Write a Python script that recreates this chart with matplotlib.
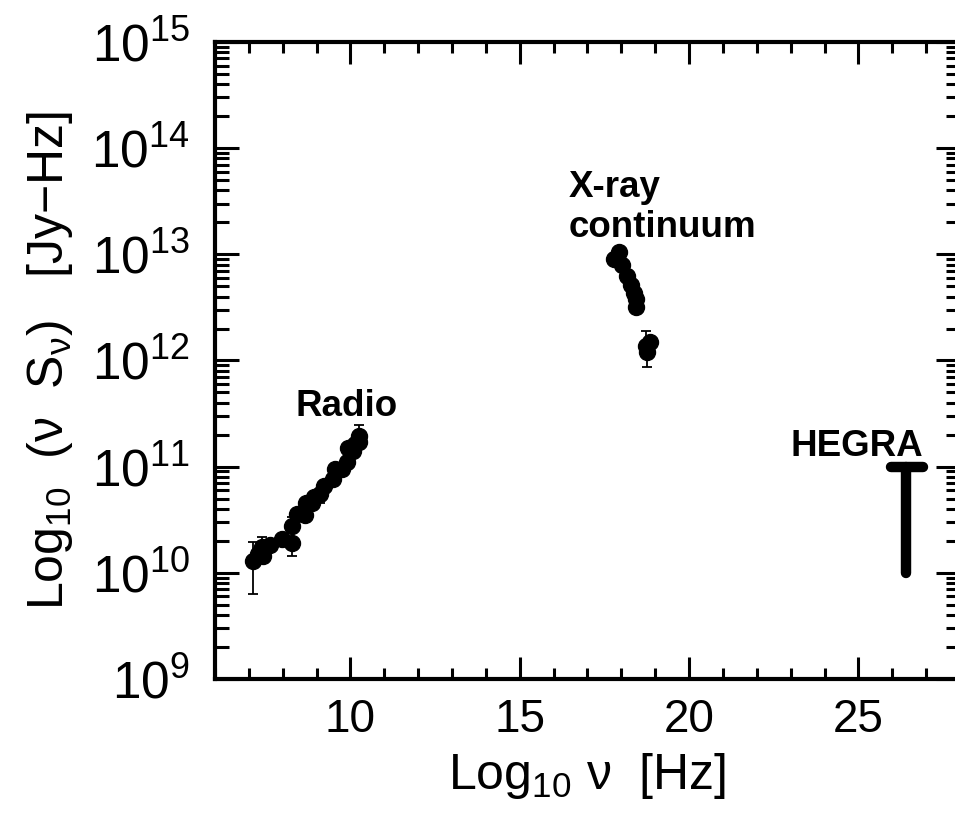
import numpy as np
import matplotlib
matplotlib.use("Agg")
import matplotlib.pyplot as plt
from matplotlib.ticker import FixedLocator, LogLocator, MultipleLocator, FuncFormatter

plt.rcParams['font.family'] = ['Liberation Sans', 'DejaVu Sans']
plt.rcParams['mathtext.fontset'] = 'custom'
plt.rcParams['mathtext.rm'] = 'Liberation Sans'
plt.rcParams['mathtext.it'] = 'Liberation Sans:italic'
plt.rcParams['mathtext.bf'] = 'Liberation Sans:bold'
plt.rcParams['mathtext.default'] = 'regular'

# radio points: log10 nu, nu S_nu, error bar ends
radio_lognu = [7.13, 7.28, 7.38, 7.43, 7.63, 7.97, 8.27, 8.27, 8.42, 8.66, 8.69, 8.86,
               8.91, 9.11, 9.21, 9.50, 9.55, 9.75, 9.90, 9.94, 10.09, 10.14, 10.24, 10.24]
radio_flux = [1.30e10, 1.51e10, 1.74e10, 1.45e10, 1.82e10, 2.09e10, 1.91e10, 2.75e10,
              3.55e10, 3.47e10, 4.57e10, 4.57e10, 5.13e10, 5.50e10, 6.61e10, 7.59e10,
              9.55e10, 9.55e10, 1.10e11, 1.51e11, 1.41e11, 1.62e11, 1.95e11, 1.70e11]
radio_lo = [6.3e9, 1.40e10, 1.60e10, 1.35e10, 1.70e10, 2.0e10, 1.45e10, 2.6e10,
            3.4e10, 3.3e10, 4.4e10, 4.4e10, 4.9e10, 4.57e10, 6.3e10, 7.3e10,
            9.2e10, 9.2e10, 1.05e11, 1.45e11, 1.35e11, 1.55e11, 1.85e11, 1.62e11]
radio_hi = [1.95e10, 1.62e10, 2.19e10, 1.55e10, 1.95e10, 2.2e10, 2.0e10, 3.39e10,
            3.7e10, 3.6e10, 4.8e10, 4.8e10, 5.4e10, 5.8e10, 6.9e10, 7.9e10,
            1.0e11, 1.0e11, 1.15e11, 1.58e11, 1.48e11, 1.70e11, 2.45e11, 1.78e11]

# X-ray continuum points
xray_lognu = [17.77, 17.94, 18.03, 18.18, 18.28, 18.38, 18.43, 18.43, 18.72, 18.85, 18.77]
xray_flux = [9.1e12, 1.05e13, 7.9e12, 6.2e12, 5.1e12, 4.3e12, 3.8e12, 3.2e12,
             1.38e12, 1.48e12, 1.20e12]
xray_lo = [8.8e12, 1.02e13, 7.6e12, 6.0e12, 4.9e12, 4.1e12, 3.6e12, 3.1e12,
           1.3e12, 1.4e12, 8.7e11]
xray_hi = [9.4e12, 1.08e13, 8.2e12, 6.4e12, 5.3e12, 4.5e12, 4.0e12, 3.3e12,
           1.9e12, 1.56e12, 1.28e12]

# HEGRA upper limit
hegra_lognu = 26.41
hegra_cap = [25.97, 26.92]
hegra_flux = [1e10, 1e11]

fig = plt.figure(figsize=(9.55, 8.15), dpi=100)
ax = fig.add_axes([0.2251, 0.1669, 0.7801, 0.7816])

for xs, ys, lo, hi in [(radio_lognu, radio_flux, radio_lo, radio_hi),
                       (xray_lognu, xray_flux, xray_lo, xray_hi)]:
    ys = np.array(ys)
    yerr = [ys - np.array(lo), np.array(hi) - ys]
    ax.errorbar(xs, ys, yerr=yerr, fmt='o', color='black', ms=11.5,
                elinewidth=1.3, capsize=3.5, capthick=1.3)

ax.plot([hegra_lognu, hegra_lognu], hegra_flux, color='black', lw=7.5,
        solid_capstyle='round')
ax.plot(hegra_cap, [hegra_flux[1], hegra_flux[1]], color='black', lw=7.5,
        solid_capstyle='round')

ax.text(9.88, 3.0e11, 'Radio', fontsize=26.5, fontweight='bold', ha='center', va='baseline')
ax.text(16.45, 1.45e13, 'X-ray\ncontinuum', fontsize=26.5, fontweight='bold',
        ha='left', va='baseline', linespacing=1.2)
ax.text(24.96, 1.27e11, 'HEGRA', fontsize=26.5, fontweight='bold', ha='center', va='baseline')

ax.set_yscale('log')
ax.set_xlim(6, 28)
ax.set_ylim(1e9, 1e15)

ax.xaxis.set_major_locator(MultipleLocator(5))
ax.xaxis.set_minor_locator(MultipleLocator(1))
ax.yaxis.set_major_locator(FixedLocator([10.0**k for k in range(9, 16)]))
ax.yaxis.set_minor_locator(LogLocator(base=10, subs=np.arange(2, 10), numticks=30))
ax.yaxis.set_major_formatter(FuncFormatter(lambda v, p: r'$10^{%d}$' % round(np.log10(v))))

ax.tick_params(which='both', direction='in', top=True, right=True, width=2.2,
               color='black')
ax.tick_params(axis='x', which='major', length=16, pad=14, labelsize=33)
ax.tick_params(axis='x', which='minor', length=8)
ax.tick_params(axis='y', which='major', length=17, pad=18, labelsize=37)
ax.tick_params(axis='y', which='minor', length=10)
for s in ax.spines.values():
    s.set_linewidth(3)

ax.set_xlabel(r'Log$_{10}$ $\nu$  [Hz]', fontsize=36, labelpad=6)
ax.set_ylabel(r'Log$_{10}$  ($\nu$  S$_{\nu}$)   [Jy$-$Hz]', fontsize=36, labelpad=12)

fig.savefig('out.png', dpi=100)
